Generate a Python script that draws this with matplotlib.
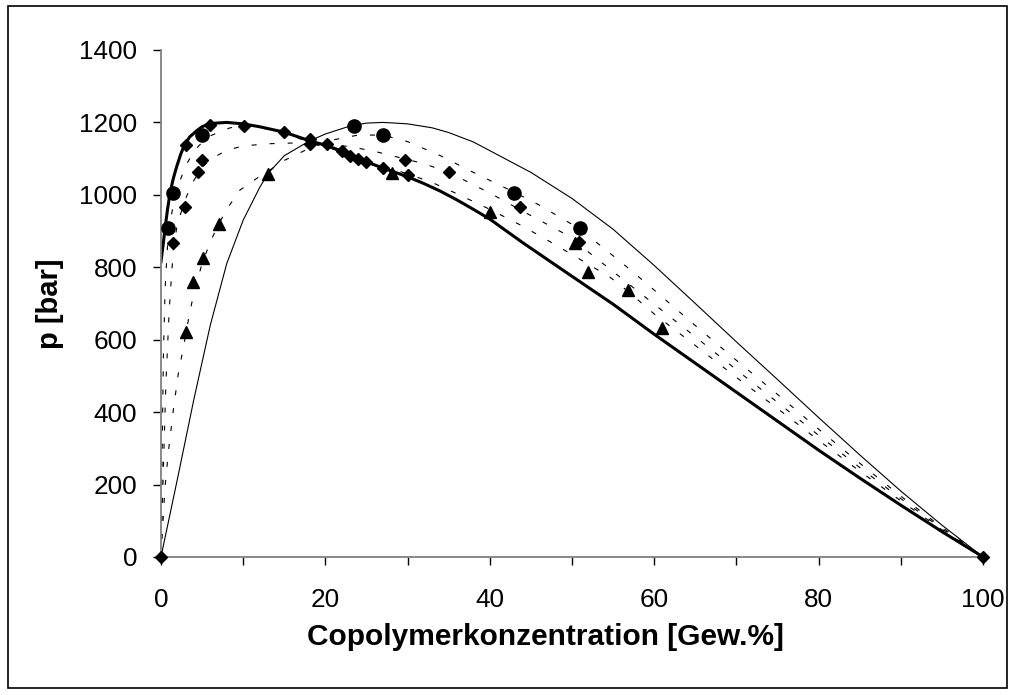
import matplotlib
matplotlib.use("Agg")
import matplotlib.pyplot as plt
from matplotlib.patches import Rectangle
from matplotlib.ticker import MultipleLocator

plt.rcParams['font.family'] = ['Liberation Sans', 'DejaVu Sans']
plt.rcParams['lines.scale_dashes'] = False

# Kurven
dick_x = [0, 0.25, 0.5, 0.8, 1.1, 1.5, 1.9, 2.4, 2.9, 3.5, 4.4, 5, 6, 8, 10, 12, 15, 18, 20, 22,
          25, 27, 30, 32, 34, 36, 38, 40, 44, 50, 55, 60, 65, 70, 75, 80, 85, 90, 95, 100]
dick_y = [815, 860, 908, 960, 1005, 1045, 1077, 1112, 1140, 1160, 1178, 1188, 1197, 1200, 1196, 1188,
          1173, 1150, 1137, 1121, 1091, 1074, 1050, 1031, 1010, 986, 960, 933, 868, 775, 698, 615,
          535, 455, 375, 295, 218, 143, 70, 0]

duenn_x = [0, 2, 4, 6, 8, 10, 12, 13, 15, 18, 20, 23, 25, 27, 30, 33, 35, 38, 40, 45, 50, 55, 57,
           60, 65, 70, 75, 80, 85, 90, 95, 100]
duenn_y = [0, 215, 435, 640, 810, 930, 1020, 1058, 1108, 1148, 1168, 1190, 1198, 1200, 1196, 1185,
           1172, 1146, 1122, 1062, 990, 905, 865, 805, 700, 594, 490, 385, 282, 182, 88, 0]

gestr1_x = [0, 0.15, 0.3, 0.5, 0.8, 1.2, 1.6, 2, 3, 4, 5, 6, 8.4, 10, 12, 15, 18, 20, 22, 25, 28,
            30, 33, 36, 40, 43.7, 47, 50, 54.6, 57, 60, 65, 70, 75, 80, 85, 90, 95, 100]
gestr1_y = [0, 300, 560, 740, 860, 935, 985, 1020, 1080, 1120, 1145, 1163, 1185, 1190, 1186, 1172,
            1145, 1133, 1118, 1095, 1072, 1058, 1034, 1003, 960, 917, 875, 835, 773, 730, 671, 584,
            496, 410, 322, 237, 155, 75, 0]

gestr2_x = [0, 0.3, 0.6, 1, 1.5, 2, 3, 4, 5, 6, 8, 10, 13, 16, 20, 23, 26, 29, 32, 35, 38, 40.4,
            44, 48.9, 52, 56, 60, 65, 70, 75, 80, 85, 90, 95, 100]
gestr2_y = [0, 250, 480, 680, 850, 920, 990, 1040, 1075, 1098, 1123, 1135, 1141, 1143, 1140, 1133,
            1120, 1103, 1086, 1062, 1028, 1000, 955, 895, 842, 770, 698, 608, 517, 427, 336, 247,
            161, 78, 0]

gestr3_x = [0, 0.3, 0.5, 0.9, 1.5, 2.1, 2.7, 3.3, 4, 5, 6, 7, 8, 9.6, 11.7, 13, 15, 18, 21, 24, 27,
            30, 34, 38, 42.9, 46, 51, 54, 57, 60, 65, 70, 75, 80, 85, 90, 95, 100]
gestr3_y = [0, 120, 195, 290, 405, 505, 575, 650, 730, 810, 870, 918, 960, 1013, 1046, 1065, 1095,
            1128, 1152, 1165, 1165, 1147, 1108, 1062, 1008, 972, 905, 850, 795, 737, 639, 543, 449,
            353, 259, 168, 82, 0]

# Messpunkte
kreis_x = [0.9, 1.5, 5, 23.5, 27, 42.9, 51]
kreis_y = [908, 1005, 1165, 1190, 1165, 1005, 908]

raute_x = [0, 1.5, 2.9, 3.1, 4.5, 5, 6, 10.1, 15, 18.1, 18.1, 20.2, 22, 23, 24, 25, 27, 29.7, 30.1,
           35, 43.7, 50.9, 100]
raute_y = [0, 868, 967, 1137, 1063, 1096, 1193, 1190, 1174, 1154, 1140, 1141, 1121, 1107, 1099, 1091,
           1074, 1097, 1055, 1063, 967, 870, 0]

dreieck_x = [3.1, 3.9, 5.1, 7.1, 13, 28.1, 40, 50.4, 52, 56.8, 61]
dreieck_y = [622, 760, 826, 920, 1057, 1059, 953, 867, 787, 737, 632]

fig = plt.figure(figsize=(10.13, 6.95), dpi=100)
ax = fig.add_axes([0.1589, 0.1986, 0.8115, 0.7295])

gestrichelt = (0, (3.6, 9.4))
ax.plot(duenn_x, duenn_y, color='black', lw=0.8)
ax.plot(gestr1_x, gestr1_y, color='black', lw=0.8, ls=gestrichelt)
ax.plot(gestr2_x, gestr2_y, color='black', lw=0.8, ls=gestrichelt)
ax.plot(gestr3_x, gestr3_y, color='black', lw=0.8, ls=gestrichelt)
ax.plot(dick_x, dick_y, color='black', lw=2.2)

ax.plot(raute_x, raute_y, ls='none', marker='D', ms=6.2, color='black', clip_on=False, zorder=5)
ax.plot(dreieck_x, dreieck_y, ls='none', marker='^', ms=9, color='black', zorder=5)
ax.plot(kreis_x, kreis_y, ls='none', marker='o', ms=9.5, color='black', zorder=5)

ax.set_xlim(0, 100)
ax.set_ylim(0, 1400)
ax.xaxis.set_major_locator(MultipleLocator(20))
ax.xaxis.set_minor_locator(MultipleLocator(10))
ax.yaxis.set_major_locator(MultipleLocator(200))

for s in ['top', 'right']:
    ax.spines[s].set_visible(False)
for s in ['left', 'bottom']:
    ax.spines[s].set_color('#808080')
    ax.spines[s].set_linewidth(1.3)

ax.tick_params(axis='y', which='major', direction='out', length=6, width=1, color='black',
               labelsize=18.8, pad=11)
ax.tick_params(axis='x', which='major', direction='out', length=6, width=1, color='black',
               labelsize=18.8, pad=16)
ax.tick_params(axis='x', which='minor', direction='out', length=6, width=1, color='black')

ax.set_xlabel('Copolymerkonzentration [Gew.%]', fontsize=21.5, fontweight='bold', va='center')
ax.set_ylabel('p [bar]', fontsize=21, fontweight='bold', va='center')
ax.xaxis.set_label_coords(0.468, -0.158)
ax.yaxis.set_label_coords(-0.135, 0.5)

fig.patches.append(Rectangle((8 / 1013, 7 / 695), 999 / 1013, 682 / 695, transform=fig.transFigure,
                             fill=False, edgecolor='black', lw=1.2))

fig.savefig('out.png', dpi=100)
